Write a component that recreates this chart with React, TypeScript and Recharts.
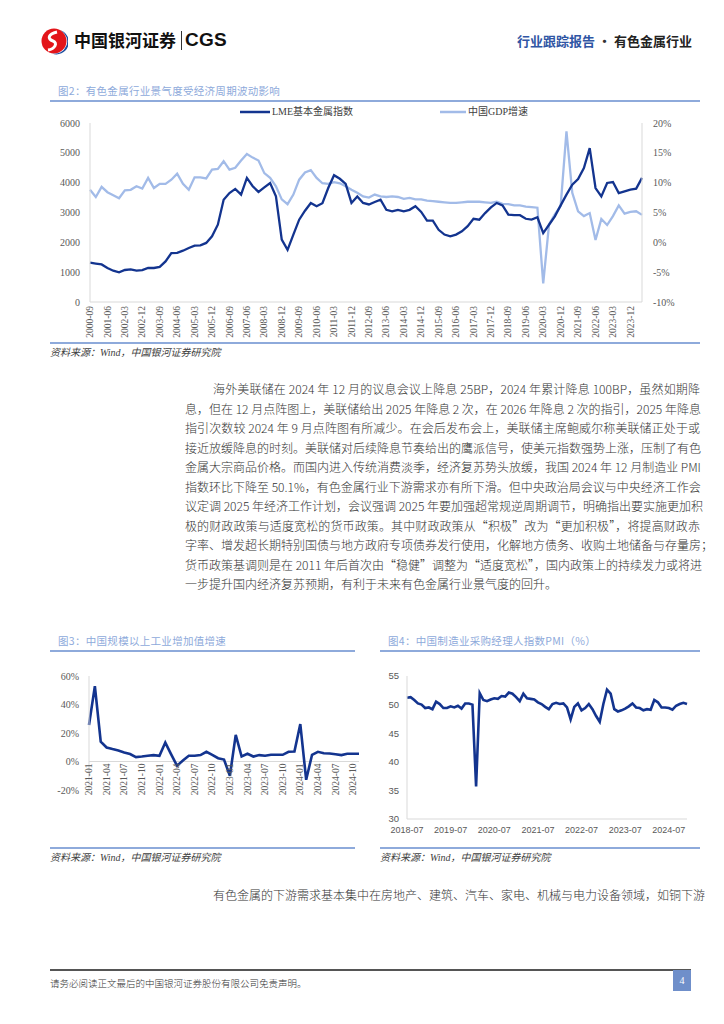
import React from 'react';
import { LineChart, Line, XAxis, YAxis, ReferenceLine } from 'recharts';

// ---------- Figure 2 data (quarterly) ----------
const quarters = [
  '2000-09','2000-12','2001-03','2001-06','2001-09','2001-12','2002-03','2002-06','2002-09','2002-12',
  '2003-03','2003-06','2003-09','2003-12','2004-03','2004-06','2004-09','2004-12','2005-03','2005-06',
  '2005-09','2005-12','2006-03','2006-06','2006-09','2006-12','2007-03','2007-06','2007-09','2007-12',
  '2008-03','2008-06','2008-09','2008-12','2009-03','2009-06','2009-09','2009-12','2010-03','2010-06',
  '2010-09','2010-12','2011-03','2011-06','2011-09','2011-12','2012-03','2012-06','2012-09','2012-12',
  '2013-03','2013-06','2013-09','2013-12','2014-03','2014-06','2014-09','2014-12','2015-03','2015-06',
  '2015-09','2015-12','2016-03','2016-06','2016-09','2016-12','2017-03','2017-06','2017-09','2017-12',
  '2018-03','2018-06','2018-09','2018-12','2019-03','2019-06','2019-09','2019-12','2020-03','2020-06',
  '2020-09','2020-12','2021-03','2021-06','2021-09','2021-12','2022-03','2022-06','2022-09','2022-12',
  '2023-03','2023-06','2023-09','2023-12','2024-03','2024-06',
];
const lmeIndex = [
  1320, 1290, 1260, 1140, 1050, 995, 1073, 1095, 1050, 1070,
  1140, 1140, 1175, 1360, 1640, 1650, 1720, 1810, 1890, 1900,
  1980, 2200, 2590, 3430, 3650, 3790, 3600, 4160, 3880, 3690,
  3840, 3990, 3540, 2090, 1750, 2260, 2760, 3060, 3320, 3210,
  3310, 3820, 4250, 4130, 3960, 3320, 3540, 3320, 3270, 3350,
  3430, 3090, 3040, 3090, 3040, 3090, 3210, 3020, 2730, 2730,
  2420, 2260, 2200, 2260, 2370, 2540, 2790, 2760, 2980, 3170,
  3320, 3240, 2930, 2910, 2910, 2790, 2760, 2840, 2310, 2590,
  2870, 3240, 3600, 3930, 4120, 4490, 5160, 3820, 3540, 3990,
  4020, 3650, 3710, 3770, 3800, 4160,
];
const gdpGrowth = [
  8.8, 7.6, 9.3, 8.4, 7.9, 7.4, 8.7, 8.8, 9.4, 9.0,
  10.8, 9.1, 9.8, 9.8, 10.5, 11.5, 9.8, 8.8, 10.9, 10.9,
  10.7, 12.2, 12.3, 13.6, 12.2, 12.5, 13.7, 14.8, 14.2, 13.7,
  11.6, 10.8, 9.4, 7.2, 6.4, 8.0, 10.5, 11.7, 12.1, 10.8,
  9.9, 9.8, 10.1, 9.9, 9.4, 8.8, 8.3, 7.7, 7.5, 8.0,
  7.7, 7.6, 7.7, 7.6, 7.3, 7.45, 7.2, 7.2, 7.0, 6.9,
  6.8, 6.7, 6.6, 6.6, 6.7, 6.8, 6.8, 6.8, 6.7, 6.6,
  6.8, 6.45, 6.4, 6.2, 6.2, 6.0, 5.9, 5.8, -6.9, 3.0,
  4.7, 6.1, 18.6, 8.3, 5.2, 4.4, 4.9, 0.4, 3.9, 2.9,
  4.4, 6.2, 4.8, 5.1, 5.2, 4.6,
];
const lmeTicks = [0, 1000, 2000, 3000, 4000, 5000, 6000];
const gdpTicks = [-10, -5, 0, 5, 10, 15, 20];

// ---------- Figure 3 data (monthly) ----------
const ivaMonths = [
  '2021-01','2021-02','2021-03','2021-04','2021-05','2021-06','2021-07','2021-08','2021-09','2021-10','2021-11','2021-12',
  '2022-01','2022-02','2022-03','2022-04','2022-05','2022-06','2022-07','2022-08','2022-09','2022-10','2022-11','2022-12',
  '2023-01','2023-02','2023-03','2023-04','2023-05','2023-06','2023-07','2023-08','2023-09','2023-10','2023-11','2023-12',
  '2024-01','2024-02','2024-03','2024-04','2024-05','2024-06','2024-07','2024-08','2024-09','2024-10','2024-11',
];
const ivaGrowth = [
  25.6, 52.9, 14.0, 9.8, 8.7, 7.7, 6.3, 5.2, 3.1, 3.5, 4.0, 4.5,
  4.0, 13.3, 5.0, -3.0, 0.7, 4.0, 4.0, 4.5, 6.8, 4.7, 2.3, 1.4,
  -10.0, 18.7, 3.5, 5.4, 3.5, 4.5, 4.0, 4.7, 4.7, 4.7, 6.8, 7.0,
  26.3, -12.8, 4.7, 6.8, 5.8, 5.6, 5.1, 4.5, 5.4, 5.4, 5.4,
];
const ivaTicks = [-20, 0, 20, 40, 60];

// ---------- Figure 4 data (monthly) ----------
const pmiMonths = [
  '2018-07','2018-08','2018-09','2018-10','2018-11','2018-12',
  '2019-01','2019-02','2019-03','2019-04','2019-05','2019-06','2019-07','2019-08','2019-09','2019-10','2019-11','2019-12',
  '2020-01','2020-02','2020-03','2020-04','2020-05','2020-06','2020-07','2020-08','2020-09','2020-10','2020-11','2020-12',
  '2021-01','2021-02','2021-03','2021-04','2021-05','2021-06','2021-07','2021-08','2021-09','2021-10','2021-11','2021-12',
  '2022-01','2022-02','2022-03','2022-04','2022-05','2022-06','2022-07','2022-08','2022-09','2022-10','2022-11','2022-12',
  '2023-01','2023-02','2023-03','2023-04','2023-05','2023-06','2023-07','2023-08','2023-09','2023-10','2023-11','2023-12',
  '2024-01','2024-02','2024-03','2024-04','2024-05','2024-06','2024-07','2024-08','2024-09','2024-10','2024-11','2024-12',
];
const pmiValues = [
  51.2, 51.3, 50.8, 50.2, 50.0, 49.4,
  49.5, 49.2, 50.5, 50.1, 49.4, 49.4, 49.7, 49.5, 49.8, 49.3, 50.2, 50.2,
  50.0, 35.7, 52.0, 50.8, 50.6, 50.9, 51.1, 51.0, 51.5, 51.4, 52.1, 51.9,
  51.3, 50.6, 51.9, 51.1, 51.0, 50.9, 50.4, 50.1, 49.6, 49.2, 50.1, 50.3,
  50.1, 50.2, 49.5, 47.4, 49.6, 50.2, 49.0, 49.4, 50.1, 49.2, 48.0, 47.0,
  50.1, 52.6, 51.9, 49.2, 48.8, 49.0, 49.3, 49.7, 50.2, 49.5, 49.4, 49.0,
  49.2, 49.1, 50.8, 50.4, 49.5, 49.5, 49.4, 49.1, 49.8, 50.1, 50.3, 50.1,
];
const pmiTicks = [30, 35, 40, 45, 50, 55];

// ---------- Text ----------
const paragraphLines = [
  '海外美联储在 2024 年 12 月的议息会议上降息 25BP，2024 年累计降息 100BP，虽然如期降',
  '息，但在 12 月点阵图上，美联储给出 2025 年降息 2 次，在 2026 年降息 2 次的指引，2025 年降息',
  '指引次数较 2024 年 9 月点阵图有所减少。在会后发布会上，美联储主席鲍威尔称美联储正处于或',
  '接近放缓降息的时刻。美联储对后续降息节奏给出的鹰派信号，使美元指数强势上涨，压制了有色',
  '金属大宗商品价格。而国内进入传统消费淡季，经济复苏势头放缓，我国 2024 年 12 月制造业 PMI',
  '指数环比下降至 50.1%，有色金属行业下游需求亦有所下滑。但中央政治局会议与中央经济工作会',
  '议定调 2025 年经济工作计划，会议强调 2025 年要加强超常规逆周期调节，明确指出要实施更加积',
  '极的财政政策与适度宽松的货币政策。其中财政政策从“积极”改为“更加积极”，将提高财政赤',
  '字率、增发超长期特别国债与地方政府专项债券发行使用，化解地方债务、收购土地储备与存量房；',
  '货币政策基调则是在 2011 年后首次由“稳健”调整为“适度宽松”，国内政策上的持续发力或将进',
  '一步提升国内经济复苏预期，有利于未来有色金属行业景气度的回升。',
];
const secondParagraph = '有色金属的下游需求基本集中在房地产、建筑、汽车、家电、机械与电力设备领域，如铜下游';

const DARK = '#13348f';
const LIGHT = '#a2bbe8';
const AXIS = '#d9d9d9';
const TITLE_BLUE = '#8eaadb';
const SERIF = "'Liberation Serif', 'Times New Roman', 'Noto Sans CJK SC', serif";
const SANS = "'Liberation Sans', Arial, 'Noto Sans CJK SC', sans-serif";
const CJK = "'Noto Sans CJK SC', 'Liberation Serif', sans-serif";

const fig2Data = quarters.map((q, i) => ({ q, lme: lmeIndex[i], gdp: gdpGrowth[i] }));
const fig3Data = ivaMonths.map((m, i) => ({ m, v: ivaGrowth[i] }));
const fig4Data = pmiMonths.map((m, i) => ({ m, v: pmiValues[i] }));

// Chart 3 geometry
const F3_H = 150, F3_TOP = 16, F3_XH = 20;
const F3_PLOT = F3_H - F3_TOP - F3_XH;
const F3_ZERO_SHIFT = (F3_PLOT * 20) / 80; // distance from bottom (-20%) to 0%

const RotTick = (props: any) => {
  const { x, y, payload, lift = 0, size = 9.5 } = props;
  const yy = y - lift;
  return (
    <text
      x={x}
      y={yy}
      transform={`rotate(-90, ${x}, ${yy})`}
      textAnchor="end"
      dy="0.33em"
      fontSize={size}
      fill="#595959"
      fontFamily={SERIF}
    >
      {payload.value}
    </text>
  );
};

const abs = (l: number, t: number, extra: React.CSSProperties = {}): React.CSSProperties => ({
  position: 'absolute',
  left: l,
  top: t,
  ...extra,
});

const Title = ({ x, y, w, text }: { x: number; y: number; w: number; text: string }) => (
  <>
    <div style={abs(x + 8, y - 8, { fontFamily: CJK, fontSize: 10.5, color: TITLE_BLUE, lineHeight: '16px', whiteSpace: 'nowrap', letterSpacing: 0.3 })}>
      {text}
    </div>
    <div style={abs(x, y + 9, { width: w, height: 1.5, background: TITLE_BLUE })} />
  </>
);

const Source = ({ x, y, w }: { x: number; y: number; w: number }) => (
  <>
    <div style={abs(x, y, { width: w, height: 1.5, background: TITLE_BLUE })} />
    <div style={abs(x, y + 3, { fontFamily: SERIF, fontStyle: 'italic', fontSize: 10, color: '#404040', lineHeight: '16px', whiteSpace: 'nowrap' })}>
      资料来源：Wind，中国银河证券研究院
    </div>
  </>
);

export default function App() {
  return (
    <div style={{ position: 'absolute', left: 0, top: 0, width: 724, height: 1024, background: '#fff', overflow: 'hidden' }}>
      {/* Header */}
      <svg style={abs(40, 27)} width={28} height={28} viewBox="0 0 28 28">
        <circle cx={14} cy={14} r={12.5} fill="#e3151a" />
        <path d="M21 3.5 A12.5 12.5 0 0 1 12 26.5 A9 9 0 0 0 21 3.5 Z" fill="#1f4e9f" />
        <path d="M17 5 C8 7 7 12 13 14 C18 16 15 22 8 23" stroke="#fff" strokeWidth={3} fill="none" />
      </svg>
      <div style={abs(74, 29, { fontFamily: CJK, fontWeight: 700, fontSize: 17, lineHeight: '22px', color: '#111', whiteSpace: 'nowrap' })}>
        中国银河证券
      </div>
      <div style={abs(181, 31, { width: 1, height: 19, background: '#333' })} />
      <div style={abs(185, 28, { fontFamily: SANS, fontWeight: 700, fontSize: 19, lineHeight: '24px', color: '#111', letterSpacing: 0.2 })}>
        CGS
      </div>
      <div style={{ position: 'absolute', right: 32, top: 32, fontFamily: CJK, fontWeight: 600, fontSize: 13, lineHeight: '18px', whiteSpace: 'nowrap' }}>
        <span style={{ color: '#2f55a4' }}>行业跟踪报告</span>
        <span style={{ color: '#333' }}> · </span>
        <span style={{ color: '#222' }}>有色金属行业</span>
      </div>

      {/* Figure 2 */}
      <Title x={50} y={91} w={650} text="图2：有色金属行业景气度受经济周期波动影响" />
      <svg style={abs(240, 108)} width={30} height={8}>
        <line x1={0} y1={4} x2={30} y2={4} stroke={DARK} strokeWidth={2.5} />
      </svg>
      <div style={abs(272, 105, { fontFamily: SERIF, fontSize: 10, color: '#404040', lineHeight: '14px', whiteSpace: 'nowrap' })}>LME基本金属指数</div>
      <svg style={abs(440, 108)} width={26} height={8}>
        <line x1={0} y1={4} x2={26} y2={4} stroke={LIGHT} strokeWidth={2.5} />
      </svg>
      <div style={abs(468, 105, { fontFamily: SERIF, fontSize: 10, color: '#404040', lineHeight: '14px', whiteSpace: 'nowrap' })}>中国GDP增速</div>

      <div style={abs(40, 105)}>
        <LineChart width={650} height={250} data={fig2Data} margin={{ top: 18, right: 0, bottom: 0, left: 0 }}>
          <XAxis
            dataKey="q"
            interval={2}
            height={53}
            tickLine={false}
            axisLine={{ stroke: AXIS }}
            tick={(p: any) => <RotTick {...p} lift={4} />}
          />
          <YAxis
            yAxisId="left"
            width={50}
            domain={[0, 6000]}
            ticks={lmeTicks}
            tickLine={false}
            axisLine={{ stroke: AXIS }}
            tickMargin={4}
            tick={{ fontSize: 10, fill: '#595959', fontFamily: SERIF }}
          />
          <YAxis
            yAxisId="right"
            orientation="right"
            width={48}
            domain={[-10, 20]}
            ticks={gdpTicks}
            tickLine={false}
            axisLine={{ stroke: AXIS }}
            tickMargin={5}
            tickFormatter={(v: number) => `${v}%`}
            tick={{ fontSize: 10, fill: '#595959', fontFamily: SERIF }}
          />
          <Line yAxisId="right" type="linear" dataKey="gdp" stroke={LIGHT} strokeWidth={2.3} dot={false} isAnimationActive={false} />
          <Line yAxisId="left" type="linear" dataKey="lme" stroke={DARK} strokeWidth={2.3} dot={false} isAnimationActive={false} />
        </LineChart>
      </div>
      <Source x={50} y={342} w={650} />

      {/* Paragraph */}
      {paragraphLines.map((line, i) => {
        const last = i === paragraphLines.length - 1;
        const left = i === 0 ? 213 : 185;
        return (
          <div
            key={i}
            style={abs(left, 379 + i * 19.5, {
              width: 700 - left,
              fontFamily: CJK,
              fontSize: 12,
              fontWeight: 300,
              lineHeight: '20px',
              color: '#333',
              textAlign: 'justify',
              textAlignLast: last ? 'left' : 'justify',
              whiteSpace: 'nowrap',
            })}
          >
            {line}
          </div>
        );
      })}

      {/* Figure 3 */}
      <Title x={50} y={641} w={305} text="图3：中国规模以上工业增加值增速" />
      <div style={abs(40, 660)}>
        <LineChart width={320} height={F3_H} data={fig3Data} margin={{ top: F3_TOP, right: 1, bottom: 0, left: 0 }}>
          <XAxis
            dataKey="m"
            interval={2}
            height={F3_XH}
            tickLine={false}
            axisLine={false}
            tick={(p: any) => <RotTick {...p} lift={F3_ZERO_SHIFT + 6} />}
          />
          <YAxis
            width={49}
            domain={[-20, 60]}
            ticks={ivaTicks}
            tickLine={false}
            axisLine={{ stroke: AXIS }}
            tickMargin={4}
            tickFormatter={(v: number) => `${v}%`}
            tick={{ fontSize: 10, fill: '#595959', fontFamily: SERIF }}
          />
          <ReferenceLine y={0} stroke={AXIS} strokeWidth={1} />
          <Line type="linear" dataKey="v" stroke={DARK} strokeWidth={2.6} dot={false} isAnimationActive={false} />
        </LineChart>
      </div>
      <Source x={50} y={847} w={305} />

      {/* Figure 4 */}
      <Title x={380} y={641} w={320} text="图4：中国制造业采购经理人指数PMI（%）" />
      <div style={abs(370, 660)}>
        <LineChart width={320} height={185} data={fig4Data} margin={{ top: 16, right: 3, bottom: 0, left: 0 }}>
          <XAxis
            dataKey="m"
            interval={11}
            height={26}
            tickLine={false}
            axisLine={{ stroke: AXIS }}
            tick={{ fontSize: 9, fill: '#595959', fontFamily: SANS }}
          />
          <YAxis
            width={37}
            domain={[30, 55]}
            ticks={pmiTicks}
            tickLine={false}
            axisLine={{ stroke: AXIS }}
            tickMargin={2}
            tick={{ fontSize: 9.5, fill: '#595959', fontFamily: SANS }}
          />
          <Line type="linear" dataKey="v" stroke={DARK} strokeWidth={2.6} dot={false} isAnimationActive={false} />
        </LineChart>
      </div>
      <Source x={380} y={847} w={320} />

      {/* Second paragraph */}
      <div
        style={abs(213, 885, {
          width: 487,
          fontFamily: CJK,
          fontSize: 12,
          fontWeight: 300,
          lineHeight: '20px',
          color: '#333',
          textAlign: 'justify',
          textAlignLast: 'justify',
          whiteSpace: 'nowrap',
        })}
      >
        {secondParagraph}
      </div>

      {/* Footer */}
      <div style={abs(50, 969, { width: 641, height: 1.5, background: '#555' })} />
      <div style={abs(50, 975, { fontFamily: CJK, fontSize: 9.5, fontWeight: 300, color: '#333', lineHeight: '16px', whiteSpace: 'nowrap' })}>
        请务必阅读正文最后的中国银河证券股份有限公司免责声明。
      </div>
      <div style={abs(673, 970, { width: 18, height: 21, background: '#6f8fca', color: '#fff', fontFamily: SERIF, fontSize: 10, lineHeight: '21px', textAlign: 'center' })}>
        4
      </div>
    </div>
  );
}
